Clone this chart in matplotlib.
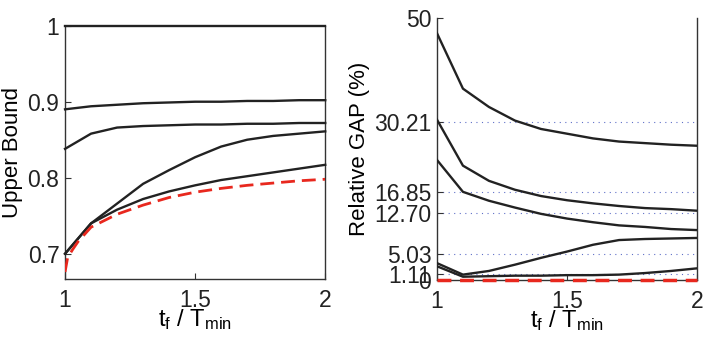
import matplotlib
matplotlib.use("Agg")
import matplotlib.pyplot as plt

plt.rcParams['font.family'] = ['Liberation Sans', 'DejaVu Sans']
plt.rcParams['mathtext.fontset'] = 'custom'
plt.rcParams['mathtext.rm'] = 'Liberation Sans'
plt.rcParams['mathtext.it'] = 'Liberation Sans'

x = [1.0, 1.1, 1.2, 1.3, 1.4, 1.5, 1.6, 1.7, 1.8, 1.9, 2.0]

# Left panel: upper bound
ub_1 = [1.0, 1.0, 1.0, 1.0, 1.0, 1.0, 1.0, 1.0, 1.0, 1.0, 1.0]
ub_2 = [0.890, 0.894, 0.896, 0.898, 0.899, 0.900, 0.900, 0.901, 0.901, 0.902, 0.902]
ub_3 = [0.838, 0.858, 0.866, 0.868, 0.869, 0.870, 0.870, 0.871, 0.871, 0.872, 0.872]
ub_4 = [0.700, 0.740, 0.766, 0.792, 0.810, 0.827, 0.841, 0.850, 0.855, 0.858, 0.861]
ub_5 = [0.700, 0.740, 0.758, 0.772, 0.782, 0.790, 0.797, 0.802, 0.807, 0.812, 0.817]
red_x = [1.0, 1.01, 1.03, 1.05, 1.1, 1.2, 1.3, 1.4, 1.5, 1.6, 1.7, 1.8, 1.9, 2.0]
red_ub = [0.676, 0.695, 0.706, 0.716, 0.735, 0.752, 0.764, 0.774, 0.781, 0.786, 0.790, 0.793, 0.796, 0.798]

# Right panel: relative gap (%)
gap_a = [47.1, 36.5, 33.0, 30.4, 28.8, 27.9, 27.0, 26.4, 26.1, 25.8, 25.6]
gap_b = [30.6, 21.8, 18.9, 17.2, 16.0, 15.2, 14.6, 14.1, 13.7, 13.5, 13.2]
gap_c = [22.9, 16.8, 15.1, 13.8, 12.6, 11.7, 11.0, 10.4, 10.1, 9.7, 9.5]
gap_d = [3.2, 1.0, 1.7, 2.9, 4.2, 5.4, 6.7, 7.6, 7.8, 7.9, 8.0]
gap_e = [2.6, 0.6, 0.7, 0.8, 0.8, 0.9, 0.9, 1.0, 1.3, 1.7, 2.2]
gap_red = [0, 0, 0, 0, 0, 0, 0, 0, 0, 0, 0]
gap_ticks = [0, 1.11, 5.03, 12.70, 16.85, 30.21, 50]
gap_ticklabels = ['0', '1.11', '5.03', '12.70', '16.85', '30.21', '50']
grid_vals = [1.11, 5.03, 12.70, 16.85, 30.21]

fig = plt.figure(figsize=(7.07, 3.38), dpi=100)
ax1 = fig.add_axes([0.092, 0.175, 0.368, 0.749])
ax2 = fig.add_axes([0.618, 0.172, 0.368, 0.775])

fs = 16.5
xlabel = r'$\mathregular{t_f\ /\ T_{min}}$'

for ys in [ub_1, ub_2, ub_3, ub_4, ub_5]:
    ax1.plot(x, ys, color='#222222', lw=1.7, zorder=3, clip_on=False)
ax1.plot(red_x, red_ub, color='#e8281e', lw=2.0, ls=(0, (5, 2.5)), zorder=4)
ax1.set_xlim(1, 2)
ax1.set_ylim(0.667, 1.0)
ax1.set_xticks([1, 1.5, 2])
ax1.set_xticklabels(['1', '1.5', '2'])
ax1.set_yticks([0.7, 0.8, 0.9, 1.0])
ax1.set_yticklabels(['0.7', '0.8', '0.9', '1'])
ax1.set_ylabel('Upper Bound', fontsize=16, labelpad=3)
ax1.set_xlabel(xlabel, fontsize=17, labelpad=-3)

for ys in [gap_a, gap_b, gap_c, gap_d, gap_e]:
    ax2.plot(x, ys, color='#222222', lw=1.7, zorder=3)
ax2.plot(x, gap_red, color='#e8281e', lw=2.5, ls=(0, (4, 2.5)), zorder=4, clip_on=False)
for g in grid_vals:
    ax2.axhline(g, color='#6070c8', lw=0.8, ls=(0, (1, 4)), zorder=1)
ax2.set_xlim(1, 2)
ax2.set_ylim(0, 50)
ax2.set_xticks([1, 1.5, 2])
ax2.set_xticklabels(['1', '1.5', '2'])
ax2.set_yticks(gap_ticks)
ax2.set_yticklabels(gap_ticklabels)
ax2.set_ylabel('Relative GAP (%)', fontsize=16, labelpad=3)
ax2.set_xlabel(xlabel, fontsize=17, labelpad=-3)

for ax in (ax1, ax2):
    ax.spines['top'].set_visible(False)
    for s in ('left', 'right', 'bottom'):
        ax.spines[s].set_color('#333333')
        ax.spines[s].set_linewidth(1.0)
    ax.tick_params(direction='in', length=4, labelsize=fs, colors='#333333',
                   labelcolor='#222222')
    ax.tick_params(axis='x', pad=7)
    ax.tick_params(axis='y', pad=4)

fig.savefig('out.png', dpi=100)
